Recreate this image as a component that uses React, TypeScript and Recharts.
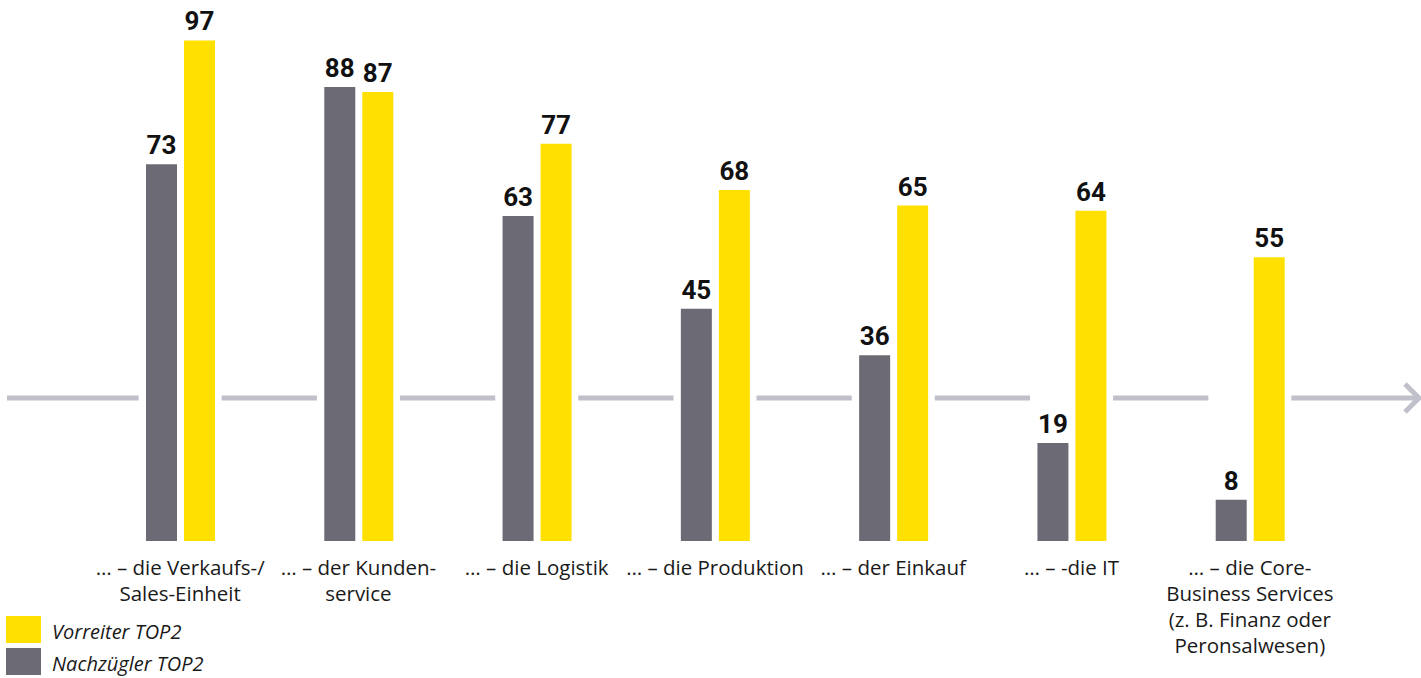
import {Bar, ComposedChart, LabelList, Legend, ReferenceLine, XAxis, YAxis} from 'recharts';

const categories = [
    '… – die Verkaufs-/\nSales-Einheit',
    '… – der Kunden-\nservice',
    '… – die Logistik',
    '… – die Produktion',
    '… – der Einkauf',
    '… – -die IT',
    '… – die Core-\nBusiness Services\n(z. B. Finanz oder\nPeronsalwesen)',
];
const nachzuegler = [73, 88, 63, 45, 36, 19, 8];
const vorreiter = [97, 87, 77, 68, 65, 64, 55];
const seriesNames = {nachzuegler: 'Nachzügler TOP2', vorreiter: 'Vorreiter TOP2'};
const arrowLevel = 27.7;

// slot = group centre on the hidden numeric axis (0..7)
const data = categories.map((category, i) => ({
    category,
    slot: i + 0.5,
    nachzuegler: nachzuegler[i],
    vorreiter: vorreiter[i],
}));

const WIDTH = 1421;
const HEIGHT = 678;
const MARGIN = {top: 25, right: 82, bottom: 0, left: 91};
const LEGEND_HEIGHT = 64;
const BAR_SIZE = 31;
const BAR_GAP = 7;
const GRAY = '#6c6b75';
const YELLOW = '#ffe000';
const LINE = '#c0c0cb';
const FONT = '"Open Sans", Roboto, sans-serif';
const NUM_FONT = 'Roboto, "Open Sans", sans-serif';

const bandPx = (WIDTH - MARGIN.left - MARGIN.right) / categories.length;
const gap = (BAR_SIZE + BAR_GAP / 2 + 7) / bandPx;
const lineStart = -(MARGIN.left - 7) / bandPx;
const lineEnd = categories.length + (MARGIN.right - 2) / bandPx;

// line pieces between the groups, in slot units
const segments = Array.from({length: categories.length + 1}, (_, k) => ({
    from: k === 0 ? lineStart : k - 0.5 + gap,
    to: k === categories.length ? lineEnd : k + 0.5 - gap,
}));

const CategoryTick = ({x, y, payload}: any) => {
    const lines = String(payload.value).split('\n');
    return (
        <text x={x} y={y} textAnchor="middle" fontSize={20.5} fill="#1a1a1a" fontFamily={FONT}>
            {lines.map((line, i) => (
                <tspan key={i} x={x} y={y + 34 + i * 26}>{line}</tspan>
            ))}
        </text>
    );
};

const ArrowLine = (props: any) => {
    const {x1, y1, x2, y2} = props;
    return (
        <g>
            <line x1={x1} y1={y1} x2={x2} y2={y2} stroke={LINE} strokeWidth={5}/>
            <polyline
                points={`${x2 - 14},${y2 - 14} ${x2},${y2} ${x2 - 14},${y2 + 14}`}
                fill="none"
                stroke={LINE}
                strokeWidth={5}
            />
        </g>
    );
};

const LegendContent = () => (
    <div style={{height: LEGEND_HEIGHT, fontFamily: FONT}}>
        {[
            {name: seriesNames.vorreiter, color: YELLOW},
            {name: seriesNames.nachzuegler, color: GRAY},
        ].map((item) => (
            <div key={item.name} style={{display: 'flex', alignItems: 'center', height: 32}}>
                <span style={{width: 35, height: 27, background: item.color, marginLeft: 6, marginRight: 11}}/>
                <span style={{fontSize: 20, fontStyle: 'italic', color: '#1a1a1a', marginTop: 5}}>{item.name}</span>
            </div>
        ))}
    </div>
);

export default function App() {
    return (
        <div style={{position: 'absolute', left: 0, top: 0, width: WIDTH, height: HEIGHT, background: '#fff'}}>
            <ComposedChart width={WIDTH} height={HEIGHT} data={data} margin={MARGIN} barGap={BAR_GAP}>
                <XAxis
                    xAxisId="cat"
                    dataKey="category"
                    axisLine={false}
                    tickLine={false}
                    tickSize={0}
                    tickMargin={0}
                    interval={0}
                    height={HEIGHT - 541 - LEGEND_HEIGHT}
                    tick={<CategoryTick/>}
                />
                <XAxis
                    xAxisId="num"
                    dataKey="slot"
                    type="number"
                    domain={[0, categories.length]}
                    allowDataOverflow
                    hide
                />
                <YAxis domain={[0, 100]} hide/>
                {segments.map((s, k) => (
                    <ReferenceLine
                        key={k}
                        xAxisId="num"
                        ifOverflow="visible"
                        segment={[{x: s.from, y: arrowLevel}, {x: s.to, y: arrowLevel}]}
                        stroke={LINE}
                        strokeWidth={5}
                        shape={k === segments.length - 1 ? <ArrowLine/> : undefined}
                    />
                ))}
                <Bar xAxisId="cat" dataKey="nachzuegler" name={seriesNames.nachzuegler} fill={GRAY} barSize={BAR_SIZE}
                     isAnimationActive={false}>
                    <LabelList dataKey="nachzuegler" position="top" offset={10} fill="#111" fontSize={26}
                               fontWeight={700} fontFamily={NUM_FONT}/>
                </Bar>
                <Bar xAxisId="cat" dataKey="vorreiter" name={seriesNames.vorreiter} fill={YELLOW} barSize={BAR_SIZE}
                     isAnimationActive={false}>
                    <LabelList dataKey="vorreiter" position="top" offset={10} fill="#111" fontSize={26}
                               fontWeight={700} fontFamily={NUM_FONT}/>
                </Bar>
                <Legend
                    verticalAlign="bottom"
                    align="left"
                    content={<LegendContent/>}
                    wrapperStyle={{left: 0, top: 613, width: 300}}
                />
            </ComposedChart>
        </div>
    );
}
